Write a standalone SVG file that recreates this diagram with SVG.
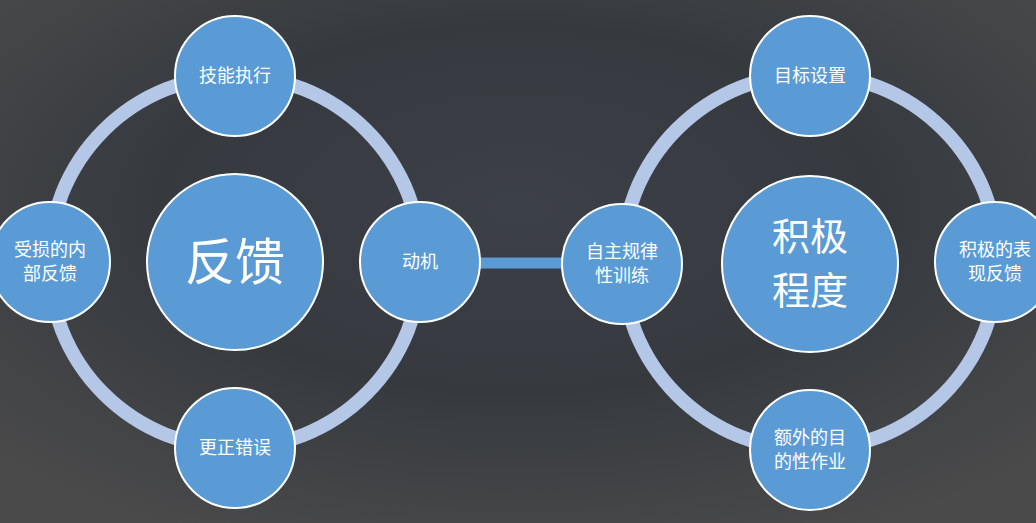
<svg xmlns="http://www.w3.org/2000/svg" width="1036" height="523" viewBox="0 0 1036 523">
<defs>
<radialGradient id="bg" cx="50%" cy="40%" r="70%">
<stop offset="0" stop-color="#3c4047"/>
<stop offset="0.5" stop-color="#363a3f"/>
<stop offset="1" stop-color="#4a4a4a"/>
</radialGradient>
</defs>
<style>
.ring{fill:none;stroke:#b4c7e7;stroke-width:14}
.n{fill:#5b9bd5;stroke:#fff;stroke-width:2}
.t{fill:#fff;font-family:"Noto Sans CJK SC",sans-serif;font-size:18px;text-anchor:middle}
.b{fill:#fff;font-family:"Noto Sans CJK SC",sans-serif;text-anchor:middle}
</style>
<rect width="1036" height="523" fill="url(#bg)"/>
<g id="connectors">
<circle class="ring" cx="235" cy="262" r="186"/>
<circle class="ring" cx="810" cy="262" r="188"/>
<line x1="475" y1="263" x2="565" y2="263" stroke="#5b9bd5" stroke-width="11"/>
</g>
<g id="fankui"><circle class="n" cx="235" cy="262" r="88"/><text class="b" x="235" y="280" font-size="50">反馈</text></g>
<g id="jineng"><circle class="n" cx="235" cy="76" r="60"/><text class="t" x="235" y="82">技能执行</text></g>
<g id="shousun"><circle class="n" cx="50" cy="262" r="60"/><text class="t" x="50" y="256">受损的内</text><text class="t" x="50" y="280">部反馈</text></g>
<g id="dongji"><circle class="n" cx="420" cy="262" r="60"/><text class="t" x="420" y="268">动机</text></g>
<g id="gengzheng"><circle class="n" cx="235" cy="448" r="60"/><text class="t" x="235" y="454">更正错误</text></g>
<g id="jiji"><circle class="n" cx="810" cy="264" r="88"/><text class="b" x="810" y="250" font-size="38">积极</text><text class="b" x="810" y="304" font-size="38">程度</text></g>
<g id="mubiao"><circle class="n" cx="810" cy="76" r="60"/><text class="t" x="810" y="82">目标设置</text></g>
<g id="zizhu"><circle class="n" cx="622" cy="264" r="60"/><text class="t" x="622" y="258">自主规律</text><text class="t" x="622" y="282">性训练</text></g>
<g id="biaoxian"><circle class="n" cx="995" cy="262" r="60"/><text class="t" x="995" y="256">积极的表</text><text class="t" x="995" y="280">现反馈</text></g>
<g id="ewai"><circle class="n" cx="810" cy="450" r="60"/><text class="t" x="810" y="444">额外的目</text><text class="t" x="810" y="468">的性作业</text></g>
</svg>
